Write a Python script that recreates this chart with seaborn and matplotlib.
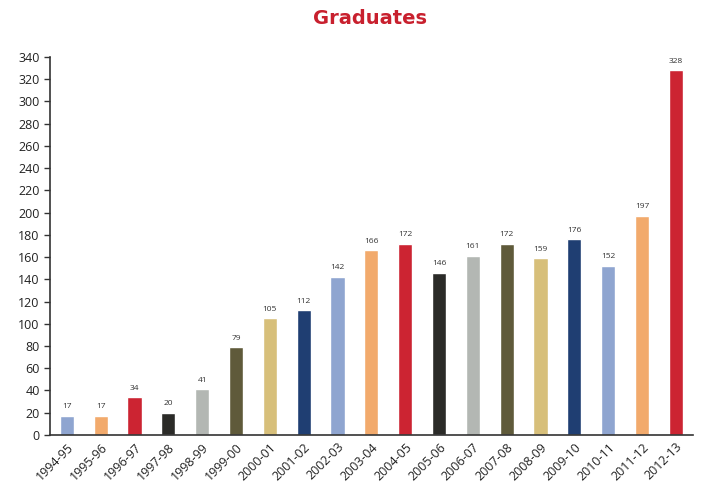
import numpy as np
import pandas as pd
import matplotlib
matplotlib.use("Agg")
import matplotlib.pyplot as plt
import seaborn as sns

# ==== data ====
years = ["1994-95", "1995-96", "1996-97", "1997-98", "1998-99", "1999-00",
         "2000-01", "2001-02", "2002-03", "2003-04", "2004-05", "2005-06",
         "2006-07", "2007-08", "2008-09", "2009-10", "2010-11", "2011-12",
         "2012-13"]
graduates = [17, 17, 34, 20, 41, 79, 105, 112, 142, 166, 172, 146,
             161, 172, 159, 176, 152, 197, 328]
yticks = list(range(0, 341, 20))

base_colors = ["#8fa5d0", "#f2aa6c", "#cc2432", "#2b2b28",
               "#b3b7b3", "#5f5a3a", "#d7bf7a", "#1f3e72"]
colors = [base_colors[i % len(base_colors)] for i in range(len(years))]

df = pd.DataFrame({"year": years, "graduates": graduates})

sns.set_style("white")
plt.rcParams['font.family'] = ['Open Sans', 'DejaVu Sans']

fig = plt.figure(figsize=(7.04, 4.87), dpi=100)
ax = fig.add_axes([0.071, 0.107, 0.913, 0.776])

sns.barplot(data=df, x="year", y="graduates", hue="year",
            palette=colors, width=0.42, legend=False, ax=ax, saturation=1)

for i, v in enumerate(graduates):
    ax.text(i, v + 5, str(v), ha="center", va="bottom",
            fontsize=6, color="#333333")

ax.set_xlim(-0.5, len(years) - 0.5)
ax.set_ylim(0, 340)
ax.set_yticks(yticks)
ax.set_yticklabels([str(t) for t in yticks], fontsize=9, color="#222222")
ax.set_xticks(range(len(years)))
ax.set_xticklabels(years, rotation=45, ha="right", rotation_mode="anchor",
                   fontsize=9, color="#222222")
ax.set_xticks(np.arange(0.5, len(years), 1), minor=True)
ax.tick_params(axis="x", which="major", length=0, pad=4)
ax.tick_params(axis="x", which="minor", length=4, direction="out",
               color="#333333", width=1)
ax.tick_params(axis="y", length=4, direction="out", color="#333333",
               width=1, left=True)
ax.set_xlabel("")
ax.set_ylabel("")

for side in ["top", "right"]:
    ax.spines[side].set_visible(False)
for side in ["left", "bottom"]:
    ax.spines[side].set_color("#333333")
    ax.spines[side].set_linewidth(1.2)

fig.text(0.525, 0.962, "Graduates", ha="center", va="center",
         fontsize=14, fontweight="bold", color="#c8202e",
         family=["Liberation Sans Narrow", "DejaVu Sans"])

fig.savefig("out.png", dpi=100)
